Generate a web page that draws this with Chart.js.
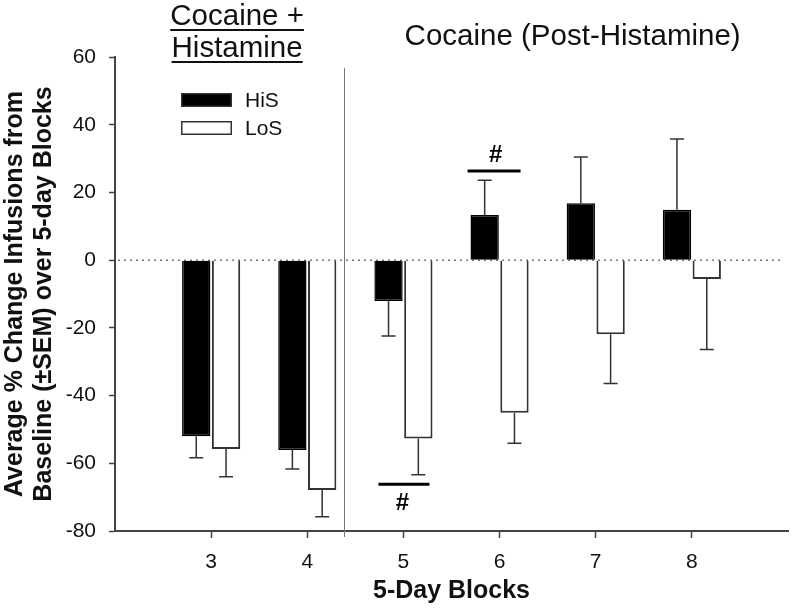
<!DOCTYPE html>
<html>
<head>
<meta charset="utf-8">
<script src="https://cdn.jsdelivr.net/npm/chart.js@4/dist/chart.umd.min.js"></script>
<style>
  html, body { margin: 0; padding: 0; background: #fff; }
  canvas { display: block; }
</style>
</head>
<body>
<canvas id="chart" width="800" height="611"></canvas>
<script>
// blocks 2 and 9 are empty slots so the axis runs a bit past 3 and 8
const blocks = ['', '3', '4', '5', '6', '7', '8', ''];
const hisMean = [null, -52.0, -56.1, -12.1, 13.3, 16.8, 14.9, null];
const hisSem = [null, 6.4, 5.6, 10.3, 10.3, 13.7, 20.9, null];
const losMean = [null, -55.8, -67.9, -52.7, -45.1, -21.9, -5.6, null];
const losSem = [null, 8.2, 7.9, 10.7, 9.0, 14.5, 20.8, null];

// significance markers: block index, y value of the bar line
const sigBlocks = [3, 4];
const sigValues = [-66.2, 26.3];

const FONT = 'Arial, "Liberation Sans", Helvetica, sans-serif';
const INK = '#111';
const AXIS = '#444';

// error bars, drawn away from zero
const errorBars = {
  id: 'errorBars',
  afterDatasetsDraw(chart) {
    const ctx = chart.ctx;
    const y = chart.scales.y;
    const sems = [hisSem, losSem];
    ctx.save();
    ctx.strokeStyle = '#333';
    ctx.lineWidth = 1.5;
    chart.data.datasets.forEach((ds, di) => {
      const meta = chart.getDatasetMeta(di);
      meta.data.forEach((bar, i) => {
        const v = ds.data[i];
        if (v === null) return;
        const sign = v < 0 ? -1 : 1;
        const end = y.getPixelForValue(v + sign * sems[di][i]);
        ctx.beginPath();
        ctx.moveTo(bar.x, bar.y);
        ctx.lineTo(bar.x, end);
        ctx.moveTo(bar.x - 7, end);
        ctx.lineTo(bar.x + 7, end);
        ctx.stroke();
      });
    });
    ctx.restore();
  }
};

// dotted zero line, separator, headers, legend, # markers
const extras = {
  id: 'extras',
  beforeDatasetsDraw(chart) {
    const ctx = chart.ctx;
    const area = chart.chartArea;
    const y0 = chart.scales.y.getPixelForValue(0);
    ctx.save();
    ctx.strokeStyle = '#777';
    ctx.lineWidth = 1.5;
    ctx.setLineDash([2, 4]);
    ctx.beginPath();
    ctx.moveTo(area.left + 3, y0);
    ctx.lineTo(area.right - 5, y0);
    ctx.stroke();
    ctx.restore();
  },
  afterDraw(chart) {
    const ctx = chart.ctx;
    const area = chart.chartArea;
    const x = chart.scales.x;
    const y = chart.scales.y;
    const step = x.getPixelForValue(2) - x.getPixelForValue(1);

    ctx.save();
    // separator between the two phases
    const sepX = Math.round(x.getPixelForValue(2) + 0.38 * step) + 0.5;
    ctx.strokeStyle = '#777';
    ctx.lineWidth = 1;
    ctx.beginPath();
    ctx.moveTo(sepX, y.getPixelForValue(56.7));
    ctx.lineTo(sepX, area.bottom + 6);
    ctx.stroke();

    // headers
    ctx.fillStyle = INK;
    ctx.strokeStyle = INK;
    ctx.font = '29.5px ' + FONT;
    ctx.textAlign = 'center';
    ctx.textBaseline = 'middle';
    const hx = x.getPixelForValue(1) + 0.27 * step;
    [['Cocaine +', 17, 30], ['Histamine', 49, 62]].forEach(([t, ty, uy]) => {
      ctx.fillText(t, hx, ty);
      const w = ctx.measureText(t).width;
      ctx.lineWidth = 2;
      ctx.beginPath();
      ctx.moveTo(hx - w / 2, uy);
      ctx.lineTo(hx + w / 2, uy);
      ctx.stroke();
    });
    ctx.fillText('Cocaine (Post-Histamine)', x.getPixelForValue(4) + 0.76 * step, 37);

    // legend
    ctx.font = '21px ' + FONT;
    ctx.textAlign = 'left';
    const lx = area.left + 66;
    chart.data.datasets.forEach((ds, i) => {
      const ty = area.top + 36 + i * 28;
      ctx.fillStyle = ds.backgroundColor;
      ctx.fillRect(lx, ty, 51, 14);
      ctx.strokeStyle = '#333';
      ctx.lineWidth = 1.5;
      ctx.strokeRect(lx + 0.75, ty + 0.75, 49.5, 12.5);
      ctx.fillStyle = INK;
      ctx.fillText(ds.label, lx + 64, ty + 8);
    });

    // significance bars and #
    ctx.fillStyle = '#000';
    ctx.strokeStyle = '#000';
    ctx.lineWidth = 3;
    ctx.font = 'bold 24px ' + FONT;
    ctx.textAlign = 'center';
    sigBlocks.forEach((b, i) => {
      const cx = x.getPixelForValue(b);
      const ly = y.getPixelForValue(sigValues[i]);
      const from = i === 0 ? cx - 25 : cx - 32;
      const to = i === 0 ? cx + 26 : cx + 21;
      ctx.beginPath();
      ctx.moveTo(from, ly);
      ctx.lineTo(to, ly);
      ctx.stroke();
      const below = sigValues[i] < 0;
      ctx.fillText('#', cx - (i === 0 ? 1 : 4), below ? ly + 19 : ly - 16);
    });
    ctx.restore();
  }
};

new Chart(document.getElementById('chart'), {
  type: 'bar',
  data: {
    labels: blocks,
    datasets: [
      {
        label: 'HiS',
        data: hisMean,
        backgroundColor: '#000',
        borderColor: '#000',
        borderWidth: 1.5
      },
      {
        label: 'LoS',
        data: losMean,
        backgroundColor: '#fff',
        borderColor: '#333',
        borderWidth: 2
      }
    ]
  },
  options: {
    responsive: false,
    animation: false,
    devicePixelRatio: 1,
    categoryPercentage: 0.62,
    barPercentage: 0.95,
    layout: { padding: { top: 57, right: 8, left: 0, bottom: 0 } },
    plugins: {
      legend: { display: false },
      tooltip: { enabled: false }
    },
    scales: {
      x: {
        type: 'category',
        offset: false,
        grid: {
          offset: false,
          drawOnChartArea: false,
          tickLength: 7,
          tickWidth: 1.5,
          tickColor: c => (c.index === 0 || c.index === blocks.length - 1) ? 'rgba(0,0,0,0)' : AXIS
        },
        border: { color: AXIS, width: 2 },
        ticks: {
          color: INK,
          font: { family: FONT, size: 21 },
          padding: 12,
          maxRotation: 0,
          autoSkip: false
        },
        title: {
          display: true,
          text: '5-Day Blocks',
          color: INK,
          font: { family: FONT, size: 25, weight: 'bold', lineHeight: 1.16 },
          padding: { top: 0, bottom: 5 }
        },
        afterFit(scale) { scale.height = 80; }
      },
      y: {
        min: -80,
        max: 60,
        grid: {
          drawOnChartArea: false,
          tickLength: 6,
          tickWidth: 1.5,
          tickColor: AXIS
        },
        border: { color: AXIS, width: 2 },
        ticks: {
          stepSize: 20,
          color: INK,
          font: { family: FONT, size: 21 },
          padding: 13
        },
        title: {
          display: true,
          text: ['Average % Change Infusions from', 'Baseline (\u00b1SEM) over 5-day Blocks'],
          color: INK,
          font: { family: FONT, size: 25, weight: 'bold', lineHeight: 1.16 },
          padding: { top: 1, bottom: 0 }
        },
        afterFit(scale) { scale.width = 115; }
      }
    }
  },
  plugins: [errorBars, extras]
});
</script>
</body>
</html>
